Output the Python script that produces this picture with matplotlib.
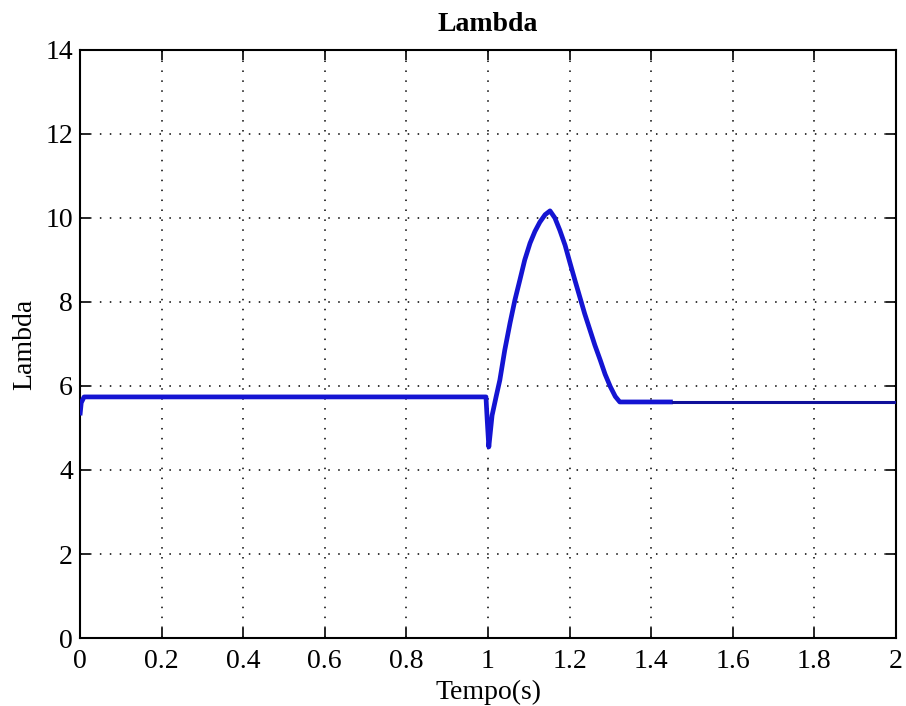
import matplotlib
matplotlib.use("Agg")
import matplotlib.pyplot as plt

# Tip-speed ratio response (simulation trace)
tempo = [0.0, 0.003, 0.01, 0.995, 0.998, 1.002, 1.01, 1.02, 1.029, 1.041,
         1.054, 1.066, 1.078, 1.09, 1.103, 1.115, 1.127, 1.14, 1.152, 1.164,
         1.176, 1.189, 1.201, 1.213, 1.225, 1.237, 1.25, 1.262, 1.275, 1.287,
         1.30, 1.312, 1.323, 1.453]
lambda_vals = [5.30, 5.60, 5.74, 5.74, 5.20, 4.55, 5.30, 5.75, 6.14, 6.85,
               7.50, 8.05, 8.52, 9.00, 9.40, 9.68, 9.90, 10.08, 10.17, 10.00,
               9.71, 9.35, 8.93, 8.52, 8.12, 7.72, 7.33, 6.97, 6.62, 6.28,
               5.98, 5.75, 5.62, 5.62]

# Steady tail after the transient
tempo_tail = [1.453, 2.0]
lambda_tail = [5.62, 5.62]

x_ticks = [0, 0.2, 0.4, 0.6, 0.8, 1, 1.2, 1.4, 1.6, 1.8, 2]
x_labels = ["0", "0.2", "0.4", "0.6", "0.8", "1", "1.2", "1.4", "1.6", "1.8", "2"]
y_ticks = [0, 2, 4, 6, 8, 10, 12, 14]

plt.rcParams["font.family"] = ["Liberation Serif", "DejaVu Serif"]
fs = 20

fig = plt.figure(figsize=(9.06, 7.06), dpi=100)
W, H = 906, 706
ax = fig.add_axes([80 / W, 1 - 638 / H, (896 - 80) / W, (638 - 50) / H])

ax.plot(tempo, lambda_vals, color="#1414d2", lw=3.4, solid_joinstyle="round",
        solid_capstyle="butt", zorder=3)
ax.plot(tempo_tail, lambda_tail, color="#10109a", lw=2.2, zorder=3)

ax.set_xlim(0, 2)
ax.set_ylim(0, 14)
ax.set_xticks(x_ticks)
ax.set_xticklabels(x_labels)
ax.set_yticks(y_ticks)

ax.grid(True, color="black", linestyle=(0, (1, 5.5)), linewidth=1.1)
ax.tick_params(direction="in", length=7, width=1.2, top=True, right=True,
               labelsize=fs)
ax.tick_params(axis="x", pad=8)
ax.tick_params(axis="y", pad=5)
for s in ax.spines.values():
    s.set_linewidth(1.5)

ax.set_title("Lambda", fontsize=fs, fontweight="bold", pad=14)
ax.set_xlabel("Tempo(s)", fontsize=fs, labelpad=4)
ax.set_ylabel("Lambda", fontsize=fs, labelpad=6)

fig.savefig("out.png", dpi=100)
